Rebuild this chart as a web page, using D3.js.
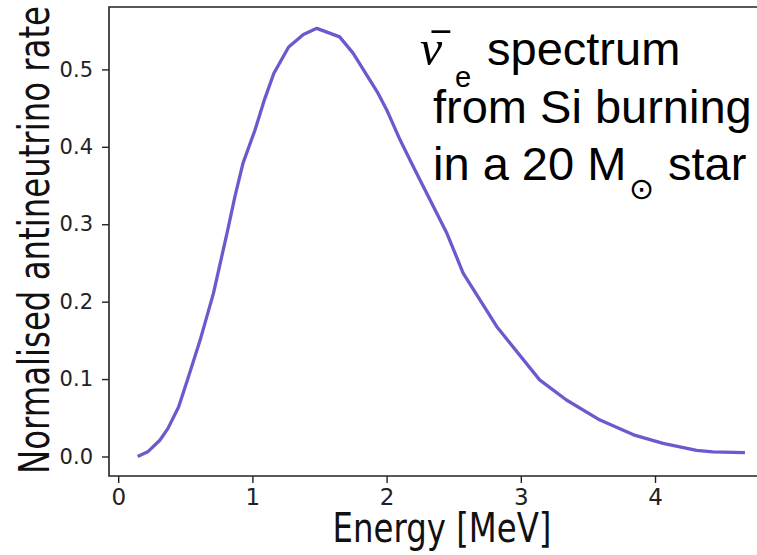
<!DOCTYPE html>
<html>
<head>
<meta charset="utf-8">
<script src="https://cdn.jsdelivr.net/npm/d3@7"></script>
<style>
  body { margin: 0; background: #fff; }
  svg { display: block; }
</style>
</head>
<body>
<div id="chart"></div>
<script>
// antineutrino spectrum
const energy = [0.145, 0.22, 0.31, 0.37, 0.45, 0.52, 0.61, 0.71, 0.81, 0.87, 0.93, 1.02, 1.09, 1.16,
  1.27, 1.38, 1.48, 1.65, 1.75, 1.93, 2.00, 2.10, 2.20, 2.45, 2.57, 2.82, 3.14, 3.34, 3.59, 3.84,
  4.06, 4.31, 4.43, 4.67];
const rate = [0.000, 0.006, 0.021, 0.036, 0.064, 0.101, 0.150, 0.211, 0.288, 0.336, 0.379, 0.422, 0.461, 0.495,
  0.529, 0.545, 0.553, 0.542, 0.521, 0.471, 0.448, 0.409, 0.374, 0.288, 0.237, 0.168, 0.099, 0.073, 0.047, 0.028,
  0.017, 0.008, 0.006, 0.005];
const xTicks = [0, 1, 2, 3, 4];
const yTicks = [0.0, 0.1, 0.2, 0.3, 0.4, 0.5];

const width = 757, height = 555;
const plotLeft = 109, plotTop = 7, plotBottom = 476;

const svg = d3.select("#chart").append("svg")
  .attr("width", width)
  .attr("height", height);

// x range runs past the right edge (figure is cropped there)
const x = d3.scaleLinear().domain([-0.0686, 4.9]).range([plotLeft, 775.8]);
const y = d3.scaleLinear().domain([-0.0252, 0.5806]).range([plotBottom, plotTop]);

const tickFont = "DejaVu Sans, sans-serif";

// axes
const gx = svg.append("g")
  .attr("transform", "translate(0," + plotBottom + ")")
  .call(d3.axisBottom(x).tickValues(xTicks).tickFormat(d3.format("d")).tickSize(7).tickPadding(6));
const gy = svg.append("g")
  .attr("transform", "translate(" + plotLeft + ",0)")
  .call(d3.axisLeft(y).tickValues(yTicks).tickFormat(d3.format(".1f")).tickSize(7).tickPadding(9));

[gx, gy].forEach(g => {
  g.select(".domain").remove();
  g.selectAll(".tick line").attr("stroke", "#222").attr("stroke-width", 1.4);
  g.selectAll(".tick text")
    .attr("fill", "#222")
    .attr("font-family", tickFont)
    .attr("font-size", 21);
});
gx.selectAll(".tick text").attr("font-size", 23);

// spines: left, bottom, top (right one is off the page)
svg.append("path")
  .attr("d", "M" + width + "," + plotTop + "H" + plotLeft + "V" + plotBottom + "H" + width)
  .attr("fill", "none")
  .attr("stroke", "#222")
  .attr("stroke-width", 1.6);

// curve
const line = d3.line()
  .x((d, i) => x(energy[i]))
  .y(d => y(d));
svg.append("path")
  .datum(rate)
  .attr("d", line)
  .attr("fill", "none")
  .attr("stroke", "#6a5acd")
  .attr("stroke-width", 3.3)
  .attr("stroke-linejoin", "round");

// axis labels
svg.append("text")
  .attr("x", 442)
  .attr("y", 542)
  .attr("text-anchor", "middle")
  .attr("font-family", tickFont)
  .attr("font-size", 41)
  .attr("textLength", 219)
  .attr("lengthAdjust", "spacingAndGlyphs")
  .attr("fill", "#111")
  .text("Energy [MeV]");

svg.append("text")
  .attr("transform", "translate(49,240) rotate(-90)")
  .attr("text-anchor", "middle")
  .attr("font-family", tickFont)
  .attr("font-size", 42)
  .attr("textLength", 468)
  .attr("lengthAdjust", "spacingAndGlyphs")
  .attr("fill", "#111")
  .text("Normalised antineutrino rate");

// annotation
const ann = svg.append("g")
  .attr("font-family", "Liberation Sans, Arial, sans-serif")
  .attr("font-size", 47)
  .attr("fill", "#000");

// nu with a bar over it
ann.append("text")
  .attr("x", 420).attr("y", 65)
  .attr("font-family", "Liberation Serif, DejaVu Serif, serif")
  .attr("font-style", "italic")
  .attr("font-size", 50)
  .text("\u03BD");
ann.append("text")
  .attr("transform", "translate(441,58) scale(1.7,1)")
  .attr("text-anchor", "middle")
  .attr("font-family", "DejaVu Sans, sans-serif")
  .attr("font-size", 38)
  .text("\u00AF");

const l1 = ann.append("text").attr("y", 65);
l1.append("tspan")
  .attr("x", 455).attr("y", 87)
  .attr("font-size", 29)
  .text("e");
l1.append("tspan")
  .attr("x", 487).attr("y", 65)
  .text("spectrum");

ann.append("text").attr("x", 433).attr("y", 123).text("from Si burning");

const l3 = ann.append("text").attr("y", 180);
l3.append("tspan").attr("x", 433).text("in a 20 M");
l3.append("tspan")
  .attr("x", 629).attr("y", 199)
  .attr("font-family", "DejaVu Sans, sans-serif")
  .attr("font-size", 30)
  .text("⊙");
l3.append("tspan").attr("x", 668).attr("y", 180).text("star");
</script>
</body>
</html>
